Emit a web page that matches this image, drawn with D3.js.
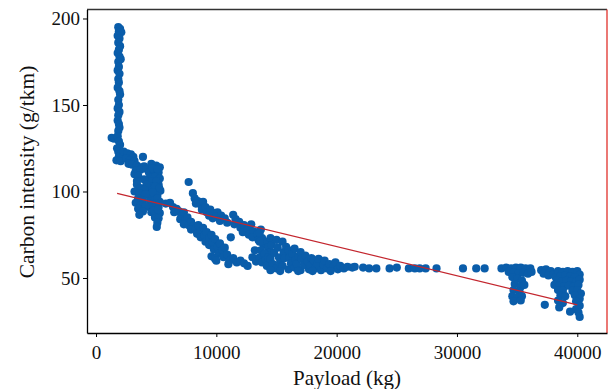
<!DOCTYPE html>
<html>
<head>
<meta charset="utf-8">
<script src="https://cdn.jsdelivr.net/npm/d3@7"></script>
<style>
  body { margin: 0; background: #fff; }
  svg text { font-family: "Liberation Serif", "DejaVu Serif", serif; fill: #111; }
</style>
</head>
<body>
<svg id="chart" width="611" height="389"></svg>
<script>
// ---- data: [payload kg, carbon intensity g/tkm] ----
var tallColumn = [
  [1850,195],[2000,194],[1900,192.5],[2100,192],[1800,190],[1950,188.5],[1850,186],[2000,184],
  [1900,182],[1800,180],[1950,178],[2050,176.5],[1850,175],[1900,172],[1800,170],[1950,168],
  [1850,165],[1900,163],[1800,160],[1950,158],[2000,156],[1850,153],[1900,150],[1800,148],
  [1950,146],[1850,144],[1800,141],[1900,139],[1950,137],[1850,135],[1300,131],[1500,130.5],
  [1800,132],[1900,129],[2000,127],[1750,125],[1850,123],[2100,122],[1900,120],[2300,121],
  [1700,118],[2050,117.5]
];
var shoulder = [
  [2300,123],[2600,122],[2900,121.5],[3100,120],[3900,120],[2500,119],[2800,118],[3200,117.5],
  [2700,116],[3000,115.5],[3400,115],[3600,114],[4000,114.5],[3300,112],[3700,112.5],[4200,113],
  [4500,112],[3200,110],[3500,109],[3400,106]
];
var midColumn = [
  [4600,116],[5000,115],[5300,114],[4400,111],[4800,112],[5200,111],[4500,108],[4900,108.5],
  [5300,107.5],[4400,105],[4800,104.5],[5200,104],[4600,101],[5000,101.5],[5350,100.5],[4300,98],
  [4700,97.5],[5100,98],[4500,94.5],[4900,95],[5300,94],[4400,91],[4800,91.5],[5200,91],
  [4600,88],[5000,88],[5300,87.5],[4900,85],[5200,84.5],[5100,82],[5050,79.5],
  [4700,113.5],[5100,113],[4600,106],[5000,106],[4500,103],[4900,103],[5250,102],[4700,99.5],
  [5100,96],[4600,92.5],[5000,93],[4800,89],[5150,89.5],[4000,107],[4200,104],
  [3400,104],[3700,102],[4000,101],[3200,100],[3600,99],[4100,98.5],[3500,96],[3900,95],
  [3300,93.5],[3700,92],[4100,91.5],[3500,90],[3900,88.5],[3600,86.5]
];
var upperBand = [
  [7700,105.5],[8050,99],[8200,96],[8450,94.5],[8300,93],[8700,92.5],[8900,94],[8800,89.5],
  [9100,91],[9200,88],[9500,89.5],[9400,86],[9800,87.5],[9700,84.5],[10100,88],[10000,85.5],
  [10400,86],[10300,83],[10700,84.5],[10900,82],[11400,86.5],[11600,84],[11500,81],[11900,82.5],
  [12000,79],[12300,80.5],[12200,76.5],[12600,78],[12700,75],[12900,81],[13100,77],[13000,73.5],
  [13400,75.5],[13500,72],[13700,78],[13800,73],[13900,69.5],[14200,71],[14300,67.5],[14500,65],
  [11200,73.5]
];
var lowerBand = [
  [5800,93],[6150,93.5],[6400,91],[6700,90],[6500,88],[6900,88.5],[7100,86],[7300,88],
  [7000,84],[7400,83.5],[7600,85],[7300,81],[7700,80.5],[7900,82.5],[8100,80],[7900,78],
  [8300,78.5],[8500,80.5],[8400,75.5],[8700,77],[8900,79],[8700,73.5],[9000,74.5],[9200,76.5],
  [9100,71],[9400,73],[9600,75],[9400,69],[9700,70.5],[9900,72.5],[9800,66.5],[10100,68],
  [10300,70],[10200,64],[10500,66],[10700,67.5],[9600,62.5],[9900,61],[10000,60],[10600,62],
  [10900,63.5],[11100,60],[11400,61.5],[11700,59],[12000,60],[12300,58.5],[12600,57],[11000,58],
  [13000,62],[13200,66],[13300,59.5]
];
var denseBand = [
  [13600,76],[13600,71],[13700,66],[13600,62],[13800,59],
  [14000,64],[14100,60.5],[14200,57],[14300,62],
  [14500,73],[14600,69],[14500,61],[14700,58],[14800,64.5],
  [15000,72],[15100,67.5],[15000,55.5],[15200,62],[15300,59],
  [15500,71],[15600,65],[15500,57],[15700,61.5],[15800,68],
  [16000,66],[16100,62],[16000,55],[16200,58.5],[16300,64],
  [16500,67],[16600,60.5],[16500,56],[16800,62.5],[16700,58],
  [17000,65],[17100,61],[17000,54.5],[17300,57.5],[17400,63],
  [17600,59.5],[17700,55],[17900,61.5],[17800,57],
  [18100,60],[18200,55.5],[18400,58],[18500,61],
  [18700,54.5],[18900,57.5],[19000,60],[19200,55.5],
  [19400,58],[19700,56],[19900,59],[20100,55],[20300,57],[20600,55.5],[20900,56.5],[21300,56],
  [14500,54.5],[15300,54],[16800,54],[18000,54],[19500,54]
];
var tail = [
  [21500,56.5],[22200,56],[22700,55.5],[23300,55.5],[24400,55.5],[25000,56],[26000,55.5],
  [26500,55.5],[26900,55.5],[27400,55.5],[28300,55.5],[30500,55.5],[31600,55.5],[32300,55.5]
];
var cluster35k = [
  [33700,55.5],[34100,56],[34500,55.5],[34900,56],[35300,56],[35700,55.5],[36100,55.5],
  [34300,53.5],[34700,53],[35100,52.5],[35500,53],[35900,52.5],[36200,53.5],[34600,50.5],
  [35000,49.5],[35400,48.5],[34800,46.5],[35300,45],[35600,46],[34700,43],[35200,42],
  [34600,39.5],[35000,38.5],[35400,39.5],[34700,36.5],[35300,37]
];
var cluster39k = [
  [37000,54.5],[37400,55],[37800,54],[37200,52.5],[37600,51.5],[38000,52],[38200,50.5],[38400,54],
  [38800,53.5],[39200,54],[39600,53.5],[40000,54],[40200,52],[38600,51],[39000,51.5],[39400,51],
  [39800,50.5],[38300,48.5],[38700,48],[39100,48.5],[39500,48],[39900,48],[40200,49],[38100,46],
  [38500,45.5],[38900,45],[39300,45.5],[39700,45],[40100,46],[38400,43],[38800,42.5],[39600,42.5],
  [40000,43],[40300,41],[38600,40],[39000,39.5],[39800,40],[40200,38],[38400,37],[38800,35.5],
  [39900,36.5],[40200,34],[37300,34.5],[38500,33],[39900,32],[39400,30.5],[40100,30],[40200,27.5]
];
// fitted line end points
var fitLine = [[1750, 98.9], [40000, 34.5]];

var xTicks = [0, 10000, 20000, 30000, 40000];
var yTicks = [50, 100, 150, 200];

var points = [].concat(tallColumn, shoulder, midColumn, upperBand, lowerBand,
                       denseBand, tail, cluster35k, cluster39k);

var svg = d3.select("#chart");
var plotL = 87, plotR = 607, plotT = 9.5, plotB = 333;

var x = d3.scaleLinear().domain([-750, 42470]).range([plotL, plotR]);
var y = d3.scaleLinear().domain([18.2, 205.2]).range([plotB, plotT]);

// frame top and right
svg.append("line").attr("x1", plotL).attr("x2", plotR).attr("y1", plotT).attr("y2", plotT)
  .attr("stroke", "#333").attr("stroke-width", 1.3);
svg.append("line").attr("x1", plotR).attr("x2", plotR).attr("y1", plotT).attr("y2", plotB)
  .attr("stroke", "#e0312a").attr("stroke-width", 1.3);

// dots
svg.append("g").selectAll("circle").data(points).enter().append("circle")
  .attr("cx", function(d){ return x(d[0]); })
  .attr("cy", function(d){ return y(d[1]); })
  .attr("r", 4.1)
  .attr("fill", "#0a5daa");

// fitted line
svg.append("path").datum(fitLine)
  .attr("d", d3.line().x(function(d){ return x(d[0]); }).y(function(d){ return y(d[1]); }))
  .attr("stroke", "#c3262e").attr("stroke-width", 1.2).attr("fill", "none");

// axes
var xAxis = svg.append("g").attr("transform", "translate(0," + plotB + ")")
  .call(d3.axisBottom(x).tickValues(xTicks).tickFormat(d3.format("d")).tickSize(4).tickPadding(9).tickSizeOuter(0));
var yAxis = svg.append("g").attr("transform", "translate(" + plotL + ",0)")
  .call(d3.axisLeft(y).tickValues(yTicks).tickSize(4).tickPadding(3).tickSizeOuter(0));

[xAxis, yAxis].forEach(function(a){
  a.select(".domain").attr("stroke", "#000").attr("stroke-width", 1.3);
  a.selectAll(".tick line").attr("stroke", "#000").attr("stroke-width", 1);
  a.selectAll(".tick text").attr("font-family", "Liberation Serif, serif")
    .attr("font-size", 19).attr("fill", "#111");
});

// axis titles
svg.append("text").attr("x", (plotL + plotR) / 2).attr("y", 385)
  .attr("text-anchor", "middle").attr("font-size", 21).text("Payload (kg)");
svg.append("text").attr("transform", "translate(34,172) rotate(-90)")
  .attr("text-anchor", "middle").attr("font-size", 21.5).text("Carbon intensity (g/tkm)");
</script>
</body>
</html>
